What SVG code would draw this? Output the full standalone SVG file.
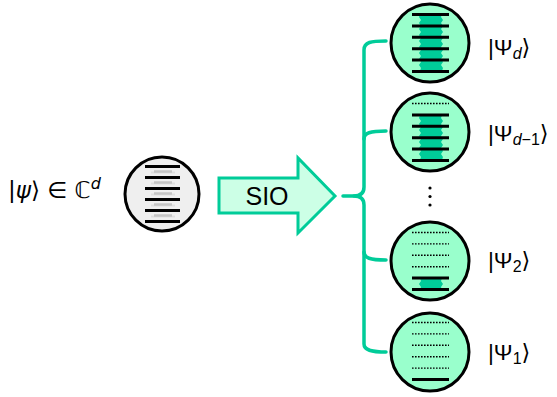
<svg xmlns="http://www.w3.org/2000/svg" width="557" height="397" viewBox="0 0 557 397">
<defs>
<style>
.bg{fill:#ffffff}
.qc{fill:#99ffcc;stroke:#000;stroke-width:3}
.lc{fill:#efefef;stroke:#000;stroke-width:3}
.lvl{stroke:#000;stroke-width:3;fill:none}
.dot{stroke:#000;stroke-width:1.4;stroke-dasharray:1.6 1.4;fill:none}
.gray1{stroke:#c4c4c4;stroke-width:2.5}
.gray2{stroke:#dedede;stroke-width:2}
.band{fill:#00cc99}
.con{fill:none;stroke:#00cc99;stroke-width:3.5;stroke-linecap:round;stroke-linejoin:round}
.lbl{font-family:"Liberation Sans",Arial,"DejaVu Sans",sans-serif;font-size:22.5px;fill:#000}
.sub{font-size:16px;font-style:italic}
.subn{font-size:16px}
.math{font-family:"DejaVu Sans",sans-serif;font-size:23px;fill:#000}
.sio{font-family:"Liberation Sans",Arial,sans-serif;font-size:25px;fill:#000}
</style>
</defs>
<rect class="bg" x="0" y="0" width="557" height="397"/>

<g id="input-state">
<text class="math" x="8" y="198">|<tspan font-style="italic">ψ</tspan>⟩ ∈ ℂ<tspan font-style="italic" font-size="16" dy="-9">d</tspan></text>
<circle class="lc" cx="162" cy="194" r="37"/>
<g>
<line class="gray2" x1="151" y1="172.5" x2="175" y2="172.5"/><line class="gray1" x1="154" y1="171.5" x2="172" y2="171.5"/>
<line class="gray2" x1="151" y1="183.5" x2="175" y2="183.5"/><line class="gray1" x1="154" y1="182.5" x2="172" y2="182.5"/>
<line class="gray2" x1="151" y1="194.5" x2="175" y2="194.5"/><line class="gray1" x1="154" y1="193.5" x2="172" y2="193.5"/>
<line class="gray2" x1="151" y1="205.5" x2="175" y2="205.5"/><line class="gray1" x1="154" y1="204.5" x2="172" y2="204.5"/>
<line class="gray2" x1="151" y1="216.5" x2="175" y2="216.5"/><line class="gray1" x1="154" y1="215.5" x2="172" y2="215.5"/>
</g>
<line class="lvl" x1="145" y1="166.5" x2="180" y2="166.5"/>
<line class="lvl" x1="145" y1="177.5" x2="180" y2="177.5"/>
<line class="lvl" x1="145" y1="188.5" x2="180" y2="188.5"/>
<line class="lvl" x1="145" y1="199.5" x2="180" y2="199.5"/>
<line class="lvl" x1="145" y1="210.5" x2="180" y2="210.5"/>
<line class="lvl" x1="145" y1="221.5" x2="180" y2="221.5"/>
</g>

<g id="sio-arrow">
<path d="M219,178 L298,178 L298,158 L335,196 L298,233 L298,213 L219,213 Z" fill="#ccffe6" stroke="#00cc99" stroke-width="3" stroke-linejoin="miter"/>
<text class="sio" x="267" y="205" text-anchor="middle">SIO</text>
</g>

<g id="connectors">
<path class="con" d="M386,41 C371,41 364,42 364,50 L364,187 C364,193 361,196 354,196 L343,196"/>
<path class="con" d="M354,196 C361,196 364,199 364,205 L364,344 C364,350 371,352 386,352"/>
<path class="con" d="M364,139 C364,133 370,131 386,131"/>
<path class="con" d="M364,252 C364,258 370,260 386,260"/>
</g>

<g id="psi-d">
<circle class="qc" cx="430" cy="43" r="39"/>
<path class="band" d="M420,14 L442,14 L441,17 L443,20 L441,23 L443,26 L441,29 L443,32 L441,35 L443,38 L441,41 L443,44 L441,47 L443,50 L441,53 L443,56 L441,59 L443,62 L441,65 L443,68 L442,71 L420,71 L421,68 L419,65 L421,62 L419,59 L421,56 L419,53 L421,50 L419,47 L421,44 L419,41 L421,38 L419,35 L421,32 L419,29 L421,26 L419,23 L421,20 L419,17 Z"/>
<line class="lvl" x1="412" y1="14.5" x2="449" y2="14.5"/>
<line class="lvl" x1="412" y1="25.9" x2="449" y2="25.9"/>
<line class="lvl" x1="412" y1="37.3" x2="449" y2="37.3"/>
<line class="lvl" x1="412" y1="48.7" x2="449" y2="48.7"/>
<line class="lvl" x1="412" y1="60.1" x2="449" y2="60.1"/>
<line class="lvl" x1="412" y1="71.5" x2="449" y2="71.5"/>
<text class="lbl" x="488" y="55">|Ψ<tspan class="sub" dy="4">d</tspan><tspan dy="-4">⟩</tspan></text>
</g>

<g id="psi-d-1">
<circle class="qc" cx="430" cy="132" r="39"/>
<path class="band" d="M420,115 L442,115 L441,118 L443,121 L441,124 L443,127 L441,130 L443,133 L441,136 L443,139 L441,142 L443,145 L441,148 L443,151 L441,154 L443,157 L442,160 L420,160 L421,157 L419,154 L421,151 L419,148 L421,145 L419,142 L421,139 L419,136 L421,133 L419,130 L421,127 L419,124 L421,121 L419,118 Z"/>
<line class="dot" x1="412" y1="103.5" x2="449" y2="103.5"/>
<line class="lvl" x1="412" y1="114.9" x2="449" y2="114.9"/>
<line class="lvl" x1="412" y1="126.3" x2="449" y2="126.3"/>
<line class="lvl" x1="412" y1="137.7" x2="449" y2="137.7"/>
<line class="lvl" x1="412" y1="149.1" x2="449" y2="149.1"/>
<line class="lvl" x1="412" y1="160.5" x2="449" y2="160.5"/>
<text class="lbl" x="488" y="141">|Ψ<tspan class="sub" dy="4">d</tspan><tspan class="subn">−1</tspan><tspan dy="-4">⟩</tspan></text>
</g>

<g id="ellipsis">
<circle cx="430" cy="188" r="1.6" fill="#000"/>
<circle cx="430" cy="196.5" r="1.6" fill="#000"/>
<circle cx="430" cy="205" r="1.6" fill="#000"/>
</g>

<g id="psi-2">
<circle class="qc" cx="430" cy="261" r="39"/>
<path class="band" d="M420,278 L442,278 L441,281 L443,284 L441,287 L442,290 L420,290 L421,287 L419,284 L421,281 Z"/>
<line class="dot" x1="412" y1="232.5" x2="449" y2="232.5"/>
<line class="dot" x1="412" y1="243.9" x2="449" y2="243.9"/>
<line class="dot" x1="412" y1="255.3" x2="449" y2="255.3"/>
<line class="dot" x1="412" y1="266.7" x2="449" y2="266.7"/>
<line class="lvl" x1="412" y1="278.1" x2="449" y2="278.1"/>
<line class="lvl" x1="412" y1="289.5" x2="449" y2="289.5"/>
<text class="lbl" x="488" y="268">|Ψ<tspan class="subn" dy="4">2</tspan><tspan dy="-4">⟩</tspan></text>
</g>

<g id="psi-1">
<circle class="qc" cx="430" cy="352" r="39"/>
<line class="dot" x1="412" y1="322.5" x2="449" y2="322.5"/>
<line class="dot" x1="412" y1="333.9" x2="449" y2="333.9"/>
<line class="dot" x1="412" y1="345.3" x2="449" y2="345.3"/>
<line class="dot" x1="412" y1="356.7" x2="449" y2="356.7"/>
<line class="dot" x1="412" y1="368.1" x2="449" y2="368.1"/>
<line class="lvl" x1="412" y1="379.5" x2="449" y2="379.5"/>
<text class="lbl" x="488" y="360">|Ψ<tspan class="subn" dy="4">1</tspan><tspan dy="-4">⟩</tspan></text>
</g>
</svg>
